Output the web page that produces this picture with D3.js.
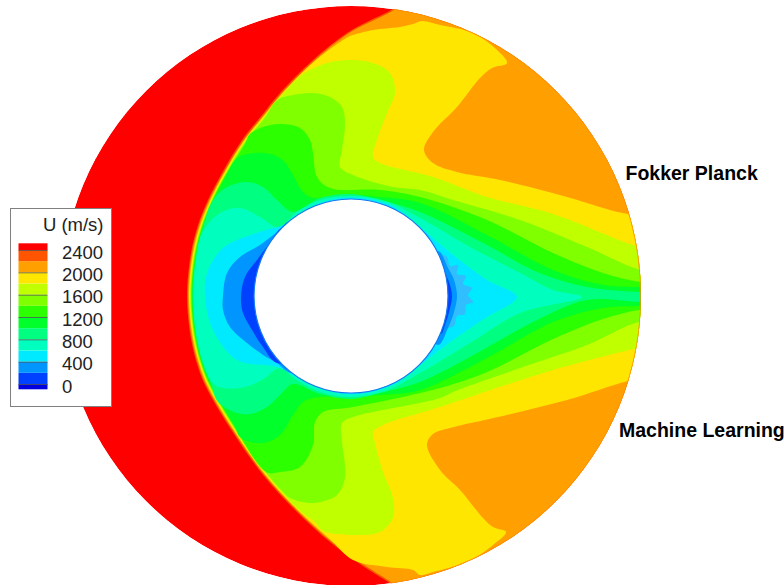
<!DOCTYPE html>
<html>
<head>
<meta charset="utf-8">
<script src="https://cdn.jsdelivr.net/npm/d3@7"></script>
<style>
  body { margin: 0; background: #fff; }
  text { font-family: "Liberation Sans", Arial, sans-serif; }
</style>
</head>
<body>
<svg id="chart"></svg>
<script>
// Contour levels and legend
const legendEdges = [-95, 0, 200, 400, 600, 800, 1000, 1200, 1400, 1600, 1800, 2000, 2200, 2400, 2520];
const legendColors = ["#0000e0", "#0040ff", "#0095ff", "#00eaff", "#00ffbf", "#00ff80", "#00ff2b",
  "#2bff00", "#80ff00", "#bfff00", "#ffe600", "#ffa000", "#ff5500", "#ff0000"];
const legendTicks = [0, 400, 800, 1200, 1600, 2000, 2400];

// Domain geometry, same units as the contours
const outerRadius = 290;
const cylinderRadius = 97;

// Contour outlines: region where U is below the level, [x, y]
const edge2400 = [[42,287],[16,274],[-4,263],[-38,236],[-71,203],[-89,181],[-109,156],[-129,123],[-143,96],[-153,71],[-160,43],[-164,0],[-160,-43],[-153,-71],[-145,-91],[-121,-132],[-88,-179],[-54,-216],[-21,-246],[6,-266],[42,-289],[60,-300],[349,-300],[349,300],[60,300]];
const edge2200 = [[43,286],[17,273],[-3.5,262],[-37,235],[-70,202],[-88,180],[-108,155],[-128,122],[-142,95.5],[-152,70.5],[-159,42.7],[-163,0],[-159,-42.7],[-152,-70.5],[-144,-90.5],[-120,-131.3],[-87,-178.3],[-53,-215.3],[-20,-245.3],[7,-265],[43,-288],[60,-300],[349,-300],[349,300],[60,300]];
const edge2000 = [[277,82],[216,99],[149,116],[106,124],[82,133],[73,146],[82,164],[106,189],[129,218],[141,228],[156,233],[146,246],[122,263],[89,271],[71,275],[62,272],[49,269],[22,266],[2,261],[-3,259],[-36.7,234.5],[-69.6,201.6],[-87.5,179.7],[-107.4,154.8],[-127.4,121.8],[-141,95],[-151,70],[-158,42.5],[-162,0],[-158,-42.5],[-151,-70],[-143,-90],[-119.4,-130.8],[-86.5,-177.7],[-52.7,-214.5],[-19.7,-244.5],[2,-264],[36,-271],[62,-274],[69,-279],[82,-276],[116,-266],[142,-249],[155,-236],[142,-231],[132,-222],[109,-194],[89,-174],[76,-149],[82,-138],[99,-132],[147,-121],[216,-104],[277,-85],[309,-79],[309,82]];
const edge1800 = [[309,44],[282,51],[202,82],[136,99],[82,119],[29,133],[22,139],[26,156],[36,183],[44,203],[39,223],[22,233],[-1,236],[-24,233],[-48,222],[-69,201],[-86.7,179],[-106.7,154],[-126.6,121],[-140.5,94.5],[-150,70],[-157,42],[-161,0],[-157,-42],[-150,-70],[-142.5,-89.5],[-118.5,-130],[-85.5,-177],[-52,-214],[-36,-226],[-28,-235],[6,-239],[29,-236],[42,-222],[42,-202],[32,-176],[24,-147],[22,-136],[32,-129],[89,-111],[202,-74],[286,-52],[309,-46]];
const edge1600 = [[309,24],[289,26],[236,49],[169,76],[102,96],[69,106],[42,109],[2,121],[-11,129],[-9,146],[-6,173],[-9,189],[-21,199],[-38,203],[-58,201],[-74,196],[-86,178.6],[-106,153.8],[-126,120.8],[-139.9,94],[-149.6,69.5],[-156.5,42],[-160.3,0],[-156.5,-42],[-149.6,-69.5],[-141.8,-89],[-118,-129.8],[-85,-176.6],[-68,-196],[-61,-202],[-38,-207],[-14,-199],[-6,-182],[-6,-169],[-9,-146],[-9,-127],[2,-121],[89,-102],[102,-96],[169,-72],[236,-49],[289,-26],[309,-29]];
const edge1400 = [[309,13],[289,14],[252,23],[202,43],[136,76],[69,99],[29,106],[-21,108],[-34,119],[-38,143],[-41,156],[-51,168],[-71,172],[-91,168],[-102,161],[-105.6,153],[-126,120],[-139.5,93.7],[-149,69],[-155.8,42],[-159.6,0],[-155.8,-42],[-149,-69],[-141,-88.7],[-117.5,-129.4],[-84.5,-176.2],[-71,-176],[-51,-171],[-38,-149],[-36,-126],[-28,-116],[2,-111],[89,-92],[136,-76],[202,-43],[252,-23],[289,-14],[309,-14]];
const edge1200 = [[309,9],[289,9],[252,11],[202,26],[136,61],[69,93],[29,99],[-1,101],[-41,99],[-51,108],[-59,123],[-71,138],[-88,143],[-108,141],[-116,136],[-125,120],[-138.7,93.4],[-148.5,69],[-155,42],[-159,0],[-155,-42],[-148.5,-69],[-140.7,-88.4],[-117,-129],[-110,-142],[-88,-147],[-71,-139],[-58,-119],[-48,-106],[-38,-102],[29,-99],[69,-94],[136,-62],[202,-26],[252,-12],[289,-10],[309,-10]];
const edge1000 = [[309,4],[289,4],[236,9],[186,24],[136,51],[69,84],[29,96],[0,102],[-31,98],[-58,84],[-74,96],[-88,109],[-104,114],[-124,109],[-138,96],[-148,68.6],[-154.6,41.5],[-158.4,0],[-154.6,-41.5],[-148,-68.6],[-140,-88],[-133,-106],[-114,-117],[-101,-118],[-84,-111],[-71,-99],[-58,-88],[-31,-98],[0,-103],[29,-97],[69,-86],[119,-61],[186,-24],[236,-4],[289,-6],[309,-6]];
const edge800 = [[231,-1],[202,6],[169,23],[119,49],[69,78],[34,95],[0,100],[-31,96],[-56,83],[-71,68],[-91,79],[-111,88],[-131,83],[-149,63],[-155,36],[-157.7,0],[-155,-36],[-148,-66],[-136,-89],[-111,-92],[-89,-84],[-71,-72],[-56,-83],[-31,-96],[0,-101],[34,-95],[69,-77],[119,-47],[169,-17]];
const edge600 = [[166,-1],[136,16],[102,41],[69,69],[39,91],[0,98.5],[-31,93],[-56,78],[-68,71],[-94,63],[-128,48],[-144,23],[-146,-1],[-138,-34],[-114,-64],[-74,-71],[-56,-80],[-31,-92],[0,-98.5],[39,-90],[69,-69],[102,-44],[136,-21]];
const edge400Front = [[-128,0],[-124,23],[-111,39],[-91,51],[-74,64],[-61,75],[-30,70],[-30,-70],[-60,-77],[-74,-67],[-88,-59],[-104,-47],[-121,-31],[-128,-14]];
const edge200Front = [[-110,-1],[-106,19],[-94,36],[-79,56],[-69,68],[-40,60],[-40,-60],[-74,-67],[-88,-51],[-99,-34],[-108,-17]];
const rearSpeckle = [[89,41],[96,39],[99,30],[107,31],[106,22],[115,20],[112,12],[121,8],[117,1],[122,-6],[115,-9],[114,-18],[106,-20],[103,-30],[95,-33],[89,-44],[60,0]];
const edge400Rear = [[87,45],[97,28],[103,16],[106,0],[103,-16],[97,-32],[87,-49],[60,0]];
const edge200Rear = [[90,30],[95,21],[99,11],[101,-1],[98,-16],[94,-29],[90,-38],[70,0]];

const contours = [edge2400, edge2200, edge2000, edge1800, edge1600, edge1400, edge1200, edge1000, edge800, edge600, edge400Front, edge200Front, rearSpeckle, edge400Rear, edge200Rear];
const contourColors = ["#ff5500", "#ffa000", "#ffe600", "#bfff00", "#80ff00", "#2bff00", "#00ff2b", "#00ff80", "#00ffbf", "#00eaff", "#0095ff", "#0040ff", "#30beff", "#0095ff", "#0040ff"];

const svgWidth = 784;
const svgHeight = 585;

const svg = d3.select("#chart")
  .attr("width", svgWidth)
  .attr("height", svgHeight)
  .style("display", "block");

// Scales
const x = d3.scaleLinear().domain([-290, 290]).range([61, 641]);
const y = d3.scaleLinear().domain([-290, 290]).range([586, 6]);
const radius = r => x(r) - x(0);

const outline = d3.line()
  .x(d => x(d[0]))
  .y(d => y(d[1]))
  .curve(d3.curveCatmullRomClosed.alpha(0.5));

const defs = svg.append("defs");

defs.append("clipPath")
  .attr("id", "disc")
  .append("circle")
  .attr("cx", x(0)).attr("cy", y(0)).attr("r", radius(outerRadius));

defs.append("clipPath")
  .attr("id", "behindShock")
  .append("path")
  .attr("d", outline(edge2400));

const field = svg.append("g").attr("clip-path", "url(#disc)");

// Free stream
field.append("circle")
  .attr("cx", x(0)).attr("cy", y(0)).attr("r", radius(outerRadius))
  .attr("fill", legendColors[13]);

// Filled contours, outer level first
field.selectAll("path.level")
  .data(contours)
  .enter().append("path")
  .attr("class", "level")
  .attr("d", outline)
  .attr("fill", (d, i) => contourColors[i]);

// Thin warm rim on the outer boundary, only behind the shock
field.append("g")
  .attr("clip-path", "url(#behindShock)")
  .append("circle")
  .attr("cx", x(0)).attr("cy", y(0)).attr("r", radius(outerRadius))
  .attr("fill", "none")
  .attr("stroke", "#ff9000")
  .attr("stroke-width", 1.4);

// Cylinder
svg.append("circle")
  .attr("cx", x(0)).attr("cy", y(0)).attr("r", radius(cylinderRadius))
  .attr("fill", "#fff")
  .attr("stroke", "#1478f0")
  .attr("stroke-width", 1.2);

// Legend
const legend = svg.append("g");

legend.append("rect")
  .attr("x", 10.5).attr("y", 208.5)
  .attr("width", 101).attr("height", 198)
  .attr("fill", "#fff")
  .attr("stroke", "#808080");

legend.append("text")
  .attr("x", 103.5).attr("y", 231)
  .attr("text-anchor", "end")
  .attr("font-size", 18.5)
  .attr("fill", "#222")
  .text("U (m/s)");

const legendScale = d3.scaleLinear().domain([0, 2400]).range([384, 250]);

legend.selectAll("rect.band")
  .data(legendColors)
  .enter().append("rect")
  .attr("class", "band")
  .attr("x", 18.5)
  .attr("width", 29)
  .attr("y", (d, i) => legendScale(legendEdges[i + 1]))
  .attr("height", (d, i) => legendScale(legendEdges[i]) - legendScale(legendEdges[i + 1]))
  .attr("fill", d => d);

const legendAxis = legend.append("g")
  .attr("transform", "translate(47.5,0)")
  .call(d3.axisRight(legendScale).tickValues(legendTicks).tickSize(-29).tickPadding(14.5).tickFormat(d3.format("d")));

legendAxis.select(".domain").remove();
legendAxis.selectAll("line").attr("stroke", "#555").attr("stroke-width", 0.8);
legendAxis.selectAll("text")
  .attr("font-size", 18.5)
  .attr("font-family", "Liberation Sans, Arial, sans-serif")
  .attr("fill", "#222")
  .attr("dy", "0.45em");

// Method labels
svg.append("text")
  .attr("x", 625.5).attr("y", 180)
  .attr("font-size", 19.5)
  .attr("font-weight", "bold")
  .text("Fokker Planck");

svg.append("text")
  .attr("x", 619).attr("y", 437)
  .attr("font-size", 19.5)
  .attr("font-weight", "bold")
  .text("Machine Learning");
</script>
</body>
</html>
